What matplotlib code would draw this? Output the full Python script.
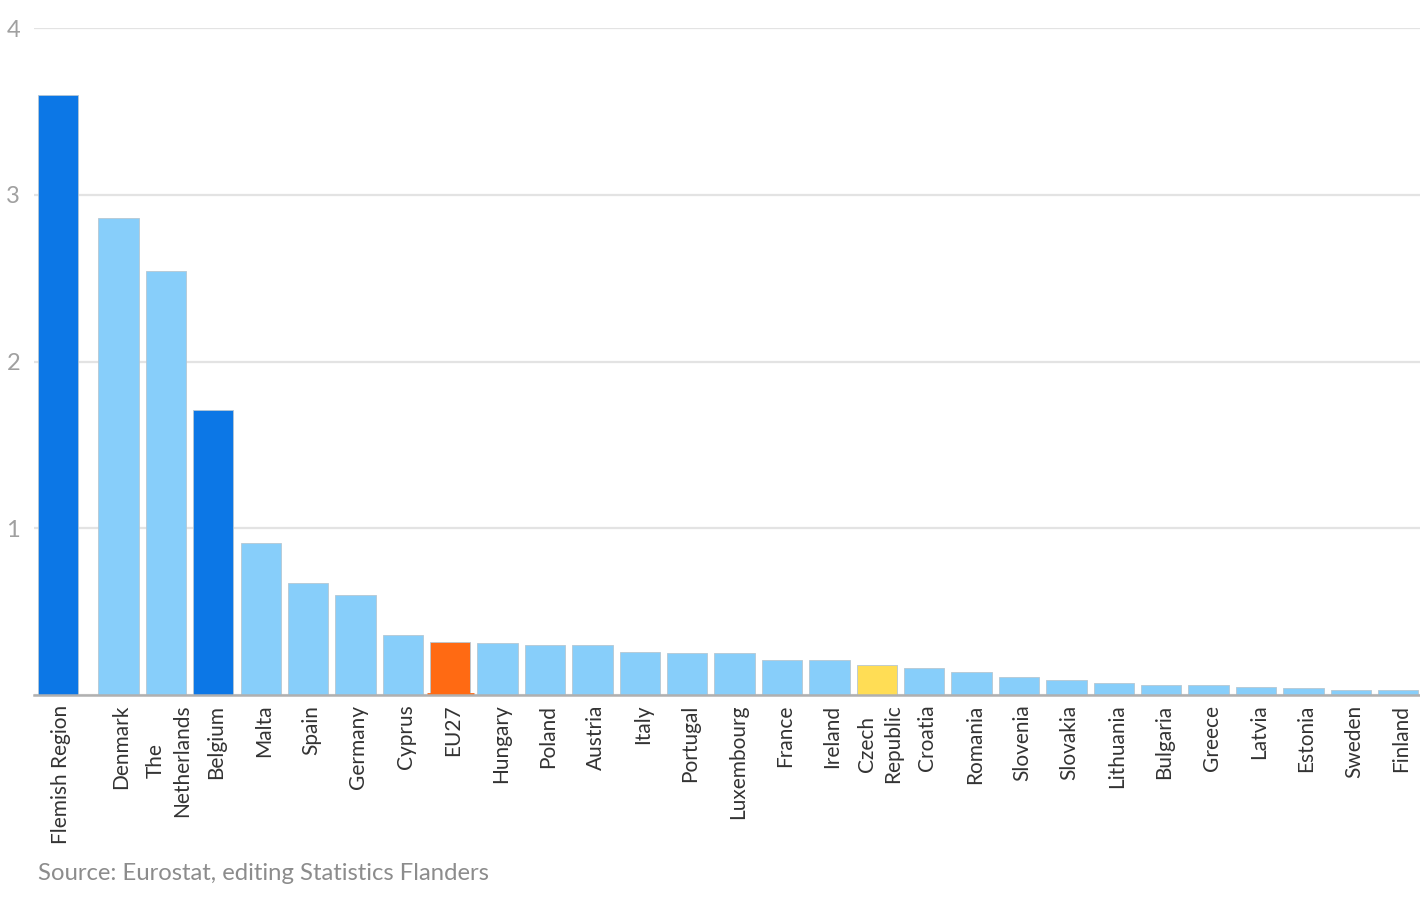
import matplotlib
matplotlib.use("Agg")
import matplotlib.pyplot as plt
import matplotlib.transforms as mtransforms
import numpy as np

categories = ["Flemish Region", "Denmark", "The\nNetherlands", "Belgium", "Malta", "Spain",
              "Germany", "Cyprus", "EU27", "Hungary", "Poland", "Austria", "Italy",
              "Portugal", "Luxembourg", "France", "Ireland", "Czech\nRepublic", "Croatia",
              "Romania", "Slovenia", "Slovakia", "Lithuania", "Bulgaria", "Greece",
              "Latvia", "Estonia", "Sweden", "Finland"]
values = [3.60, 2.86, 2.54, 1.71, 0.91, 0.67, 0.60, 0.36, 0.32, 0.31, 0.30, 0.30, 0.26,
          0.25, 0.25, 0.21, 0.21, 0.18, 0.16, 0.14, 0.11, 0.09, 0.07, 0.06, 0.06,
          0.05, 0.04, 0.03, 0.03]
yticks = [0, 1, 2, 3, 4]
ytick_labels = ["", "1", "2", "3", "4"]

DARK = "#0C77E6"
LIGHT = "#87CEFA"
ORANGE = "#FF6A13"
YELLOW = "#FFDD55"
special = {"Flemish Region": DARK, "Belgium": DARK, "EU27": ORANGE, "Czech\nRepublic": YELLOW}
colors = [special.get(c, LIGHT) for c in categories]

font = ["Lato", "DejaVu Sans"]
plt.rcParams["font.family"] = font

fig = plt.figure(figsize=(14.2, 8.97), dpi=100)
W, H = 1420, 897
ax = fig.add_axes([34 / W, 1 - 695 / H, (1420 - 34) / W, (695 - 28) / H])

x = np.arange(len(categories), dtype=float)
x[0] -= 0.277  # first bar set apart slightly

ax.bar(x, values, width=0.852, color=colors, edgecolor="#b5c7d3", linewidth=0.6, zorder=3)

# thin orange baseline marker under EU27
i_eu = categories.index("EU27")
ax.plot([x[i_eu] - 0.5, x[i_eu] + 0.5], [0.006, 0.006], color=ORANGE, lw=2, zorder=4,
        solid_capstyle="butt")

ax.set_xlim(-0.783, 28.46)
ax.set_ylim(0, 4)
ax.set_yticks(yticks)
ax.set_yticklabels(ytick_labels)
ax.grid(axis="y", color="#e3e3e3", linewidth=1.6, zorder=0)
ax.set_axisbelow(True)

for s in ["top", "right", "left"]:
    ax.spines[s].set_visible(False)
ax.spines["bottom"].set_color("#b0b0b0")
ax.spines["bottom"].set_linewidth(1.8)
ax.spines["bottom"].set_zorder(5)

ax.tick_params(axis="y", length=0, pad=10, labelsize=17, labelcolor="#a0a0a0")
ax.tick_params(axis="x", length=0, pad=7)
ax.set_xticks(x)
ax.set_xticklabels(categories, rotation=90, ha="center", va="top",
                   fontsize=15, color="#333333", multialignment="center", linespacing=1.4)
offset = mtransforms.ScaledTranslation(3 / 100, 0, fig.dpi_scale_trans)
for lbl in ax.get_xticklabels():
    lbl.set_transform(lbl.get_transform() + offset)

fig.text(38 / W, 1 - 873 / H, "Source: Eurostat, editing Statistics Flanders",
         fontsize=17.2, color="#8c8c8c", ha="left", va="center")

fig.savefig("out.png", dpi=100)
